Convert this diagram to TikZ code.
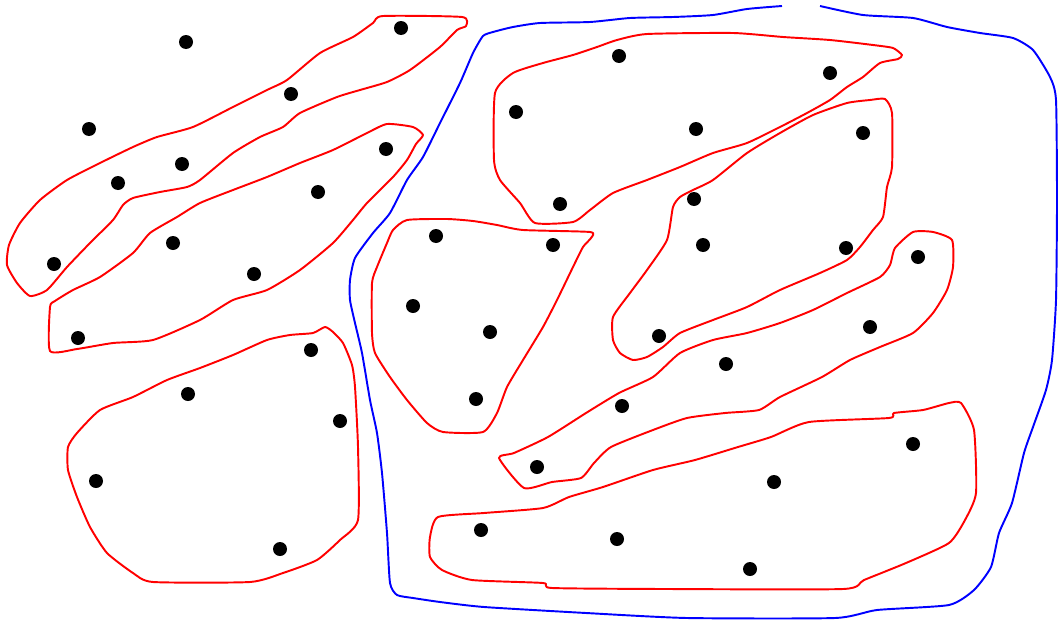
\documentclass[tikz,border=0pt]{standalone}
\usepackage{tikz}

\begin{document}
\begin{tikzpicture}[x=0.02cm, y=-0.02cm,
    cluster/.style={draw=red, line width=1.1pt, line join=round},
    domain line/.style={draw=blue, line width=1.1pt, line join=round},
    sample/.style={fill=black}]
\useasboundingbox (0,0) rectangle (1058,622);

% clusters on the left
\draw[cluster] plot[smooth cycle, tension=0.35] coordinates {
  (383,16) (462,17) (466,26) (457,30) (440,47) (410,70) (387,82) (360,90)
  (337,97) (300,113) (283,127) (260,137) (233,153) (200,180) (187,187)
  (160,192) (133,198) (123,205) (113,220) (90,243) (67,267) (47,290)
  (30,296) (17,283) (7,265) (9,245) (20,223) (40,200) (67,180) (100,163)
  (133,147) (157,137) (193,127) (233,107) (267,90) (287,80) (320,53)
  (353,37) (373,23)};
\draw[cluster] plot[smooth cycle, tension=0.35] coordinates {
  (387,124) (413,127) (423,135) (416,144) (407,160) (393,177) (367,203)
  (353,220) (333,243) (300,270) (267,290) (233,300) (200,320) (153,340)
  (113,343) (77,349) (50,351) (50,307) (55,301) (73,290) (100,277)
  (133,253) (150,233) (177,217) (200,203) (233,190) (267,177) (300,163)
  (333,150) (367,133)};
\draw[cluster] plot[smooth cycle, tension=0.35] coordinates {
  (325,327) (333,332) (343,343) (352,365) (355,387) (358,447) (358,520)
  (340,540) (317,560) (283,573) (250,582) (153,582) (133,573) (107,553)
  (90,527) (77,497) (68,470) (68,447) (77,433) (100,410) (133,397)
  (167,380) (200,368) (233,355) (267,340) (290,335) (313,333)};

% clusters on the right
\draw[cluster] plot[smooth cycle, tension=0.35] coordinates {
  (407,220) (447,219) (473,221) (497,225) (523,230) (590,232) (591,238)
  (583,247) (573,267) (557,300) (543,327) (523,360) (507,387) (497,413)
  (483,432) (443,432) (427,423) (407,400) (390,377) (375,353) (372,333)
  (372,283) (377,267) (387,243) (393,230)};
\draw[cluster] plot[smooth cycle, tension=0.35] coordinates {
  (495,93) (513,73) (543,63) (573,55) (597,47) (617,40) (647,34) (733,33)
  (783,37) (830,40) (873,45) (893,48) (902,55) (898,59) (880,63) (863,77)
  (847,87) (830,100) (807,113) (780,127) (747,143) (713,153) (680,167)
  (647,180) (613,193) (590,210) (573,222) (535,223) (520,203) (500,180)
  (494,160)};
\draw[cluster] plot[smooth cycle, tension=0.35] coordinates {
  (870,100) (885,99) (892,113) (892,167) (887,187) (883,217) (873,230)
  (860,247) (847,260) (820,273) (780,290) (747,307) (713,320) (680,333)
  (663,347) (647,357) (633,360) (620,353) (613,340) (613,317) (630,293)
  (647,270) (667,240) (673,207) (680,197) (693,190) (713,180) (747,153)
  (780,133) (813,115) (847,103)};
\draw[cluster] plot[smooth cycle, tension=0.35] coordinates {
  (913,232) (933,232) (952,240) (953,267) (947,290) (933,313) (913,333)
  (880,347) (850,360) (822,377) (780,397) (759,410) (725,413) (687,418)
  (653,430) (611,447) (594,463) (581,478) (552,482) (524,488) (499,458)
  (514,453) (548,437) (586,413) (619,393) (653,377) (680,353) (713,340)
  (747,333) (780,323) (813,310) (847,293) (880,277) (890,265) (895,248)};
\draw[cluster] plot[smooth cycle, tension=0.35] coordinates {
  (949,403) (961,403) (974,430) (976,493) (965,520) (949,543) (906,563)
  (864,580) (843,589) (666,589) (552,588) (543,583) (472,580) (442,570)
  (430,557) (430,537) (438,517) (484,513) (543,508) (569,497) (603,487)
  (653,470) (695,460) (738,447) (771,437) (809,422) (889,418) (894,413)
  (923,410)};

% the enclosing domain (open at the top)
\draw[domain line] plot[smooth, tension=0.35] coordinates {
  (820,6) (863,15) (913,18) (947,27) (980,33) (1013,38) (1033,50)
  (1050,77) (1056,100) (1057,200) (1056,300) (1052,360) (1046,390)
  (1033,427) (1024,453) (1012,503) (999,533) (991,567) (974,590)
  (949,605) (877,610) (835,618) (687,618) (586,613) (484,607) (440,602)
  (413,598) (397,595) (390,583) (387,533) (382,473) (377,433) (370,400)
  (362,353) (355,323) (350,300) (350,280) (355,258) (373,233) (390,213)
  (407,180) (423,157) (440,123) (460,83) (473,53) (483,36) (493,32)
  (513,27) (540,23) (590,22) (630,18) (673,17) (713,15) (747,9) (782,6)};

% sample points
\foreach \px/\py in {186/42, 401/28, 291/94, 89/129, 182/164, 118/183,
    386/149, 318/192, 54/264, 173/243, 254/274, 78/338, 311/350, 188/394,
    340/421, 96/481, 280/549, 619/56, 830/73, 516/112, 696/129, 863/133,
    560/204, 694/199, 436/236, 553/245, 703/245, 846/248, 918/257,
    413/306, 490/332, 659/336, 870/327, 726/364, 476/399, 622/406,
    537/467, 913/444, 774/482, 481/530, 617/539, 750/569}
  \fill[sample] (\px,\py) circle (7);
\end{tikzpicture}
\end{document}
